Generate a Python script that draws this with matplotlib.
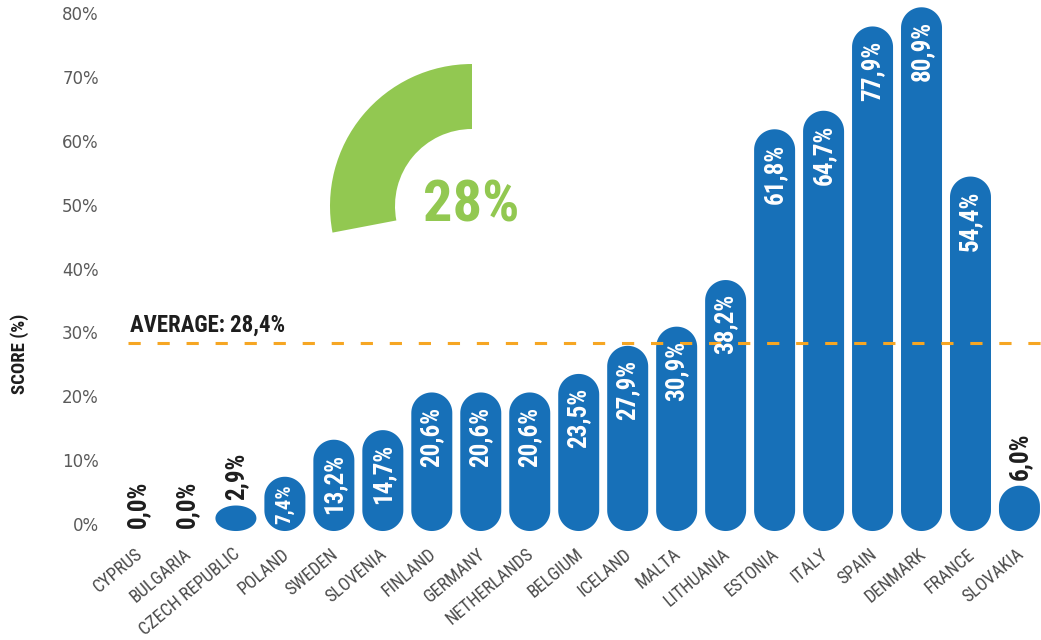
import numpy as np
import matplotlib
matplotlib.use("Agg")
import matplotlib.pyplot as plt
from matplotlib import font_manager as fm
from matplotlib.patches import Polygon, Wedge

# ---------------- data ----------------
countries = ["CYPRUS", "BULGARIA", "CZECH REPUBLIC", "POLAND", "SWEDEN", "SLOVENIA",
             "FINLAND", "GERMANY", "NETHERLANDS", "BELGIUM", "ICELAND", "MALTA",
             "LITHUANIA", "ESTONIA", "ITALY", "SPAIN", "DENMARK", "FRANCE", "SLOVAKIA"]
scores = [0.0, 0.0, 2.9, 7.4, 13.2, 14.7, 20.6, 20.6, 20.6, 23.5, 27.9, 30.9,
          38.2, 61.8, 64.7, 77.9, 80.9, 54.4, 6.0]
average = 28.4
gauge_value = 28
yticks = [0, 10, 20, 30, 40, 50, 60, 70, 80]
ytick_labels = ["0%", "10%", "20%", "30%", "40%", "50%", "60%", "70%", "80%"]

# ---------------- style ----------------
BLUE = "#1770b8"
GREEN = "#92c851"
ORANGE = "#f6a623"
DARK = "#1e1e1e"
GREY = "#5a5a5a"
PX = 0.72  # points per pixel at dpi 100


def pick_font(want_bold):
    pref = ["roboto condensed", "liberation sans narrow", "open sans", "noto sans", "dejavu sans", "lato", "inter"]
    best, bestscore = None, -1e9
    for f in fm.fontManager.ttflist:
        name = f.name.lower()
        st = str(f.stretch).lower()
        cond = ("condensed" in st or "narrow" in st or "condensed" in name or "narrow" in name)
        if isinstance(f.stretch, (int, float)) and f.stretch < 500:
            cond = True
        if not cond or "extra" in st or "ultra" in st:
            continue
        if "italic" in str(f.style).lower() or "oblique" in str(f.style).lower():
            continue
        if "mono" in name or ("serif" in name and "sans" not in name):
            continue
        w = f.weight
        if not isinstance(w, (int, float)):
            w = fm.weight_dict.get(str(w).lower(), 400)
        score = -abs(w - (700 if want_bold else 400))
        for k, p in enumerate(pref):
            if p in name:
                score += (len(pref) - k) * 0.1
        if score > bestscore:
            best, bestscore = f, score
    return best


fb = pick_font(True)
fr = pick_font(False)
if fb is not None:
    def fpb(size):
        return fm.FontProperties(fname=fb.fname, size=size)
else:
    def fpb(size):
        return fm.FontProperties(family="DejaVu Sans", weight="bold", size=size * 0.82)
if fr is not None:
    def fpr(size):
        return fm.FontProperties(fname=fr.fname, size=size)
else:
    def fpr(size):
        return fm.FontProperties(family="DejaVu Sans", size=size * 0.85)

# ---------------- figure ----------------
W, H = 1041, 640
fig = plt.figure(figsize=(W / 100, H / 100), dpi=100)
ax_left, ax_right = 98.8, 1041.5
ax_bottom_px, ax_top_px = 536.8, 0.25  # from top
ax = fig.add_axes([ax_left / W, 1 - ax_bottom_px / H, (ax_right - ax_left) / W,
                   (ax_bottom_px - ax_top_px) / H])
x = np.arange(len(countries))
ax.set_xlim(-0.8, 18.45)
ax.set_ylim(-2, 82)
for s in ax.spines.values():
    s.set_visible(False)
ax.set_xticks([])
ax.set_yticks(yticks, ytick_labels)
ax.tick_params(axis="y", length=0, pad=0, labelsize=12, labelcolor=GREY)

# pixel scales
p0 = ax.transData.transform((0, 0))
p1 = ax.transData.transform((1, 1))
px_x = p1[0] - p0[0]
px_y = p1[1] - p0[1]

BAR_W_PX = 41
BASE = -7 / px_y  # bars start slightly below zero
bw = BAR_W_PX / px_x


def pill(xc, y0, y1):
    """Rounded bar (elliptic corners, circular in pixel space when tall enough)."""
    rx = bw / 2
    ry = min(BAR_W_PX / 2, (y1 - y0) * px_y / 2) / px_y
    t = np.linspace(0, np.pi / 2, 20)
    pts = []
    for (cx, cy, a0) in [(xc + bw / 2 - rx, y1 - ry, 0), (xc - bw / 2 + rx, y1 - ry, np.pi / 2),
                         (xc - bw / 2 + rx, y0 + ry, np.pi), (xc + bw / 2 - rx, y0 + ry, 1.5 * np.pi)]:
        ang = a0 + t
        pts.extend(zip(cx + rx * np.cos(ang), cy + ry * np.sin(ang)))
    return Polygon(pts, closed=True, fc=BLUE, ec="none", zorder=2)


for xi, v in zip(x, scores):
    if v > 0:
        ax.add_patch(pill(xi, BASE, v))

# value labels
for xi, v in zip(x, scores):
    txt = f"{v:.1f}%".replace(".", ",")
    if v >= 7:
        bar_px = (v - BASE) * px_y
        if bar_px < 75:
            ax.annotate(txt, xy=(xi, (v + BASE) / 2), xytext=(0, 0), textcoords="offset points",
                        rotation=90, ha="center", va="center", color="white",
                        fontproperties=fpb(15), zorder=4)
        else:
            ax.annotate(txt, xy=(xi, v), xytext=(0, -14 * PX), textcoords="offset points",
                        rotation=90, ha="center", va="top", color="white",
                        fontproperties=fpb(18), zorder=4)
    elif v > 0:
        ax.annotate(txt, xy=(xi, v), xytext=(0, 6 * PX), textcoords="offset points",
                    rotation=90, ha="center", va="bottom", color=DARK,
                    fontproperties=fpb(18), zorder=4)
    else:
        ax.annotate(txt, xy=(xi, BASE), xytext=(0, 3 * PX), textcoords="offset points",
                    rotation=90, ha="center", va="bottom", color=DARK,
                    fontproperties=fpb(18), zorder=4)

# country labels
for xi, name in zip(x, countries):
    ax.annotate(name, xy=(xi, 0), xytext=(2 * PX, -28 * PX), textcoords="offset points",
                rotation=40, rotation_mode="anchor", ha="right", va="center",
                color="#4a4a4a", fontproperties=fpr(13), annotation_clip=False)

# average line
ax.axhline(average, xmin=(128 - ax_left) / (ax_right - ax_left), xmax=1,
           color=ORANGE, lw=2.2, linestyle=(0, (4, 5.5)), zorder=3)
ax.annotate(f"AVERAGE: {average:.1f}%".replace(".", ","),
            xy=((130 - ax_left) / (ax_right - ax_left), average),
            xycoords=ax.get_yaxis_transform(), xytext=(0, 6 * PX),
            textcoords="offset points", ha="left", va="bottom", color=DARK,
            fontproperties=fpb(16.5))

# axis title
fig.text(20 / W, 1 - 354 / H, "SCORE (%)", rotation=90, ha="center", va="center",
         color=DARK, fontproperties=fpb(13.5))

# gauge
wedge = Wedge((4.72, (H - 206) / 100), 1.42, 90, 90 + 360 * gauge_value / 100,
              width=0.65, transform=fig.dpi_scale_trans, fc=GREEN, ec="none")
fig.add_artist(wedge)
fig.text(471 / W, 1 - 206 / H, f"{gauge_value}%", ha="center", va="center",
         color=GREEN, fontproperties=fpb(42))

fig.savefig("out.png", dpi=100, facecolor="white")
